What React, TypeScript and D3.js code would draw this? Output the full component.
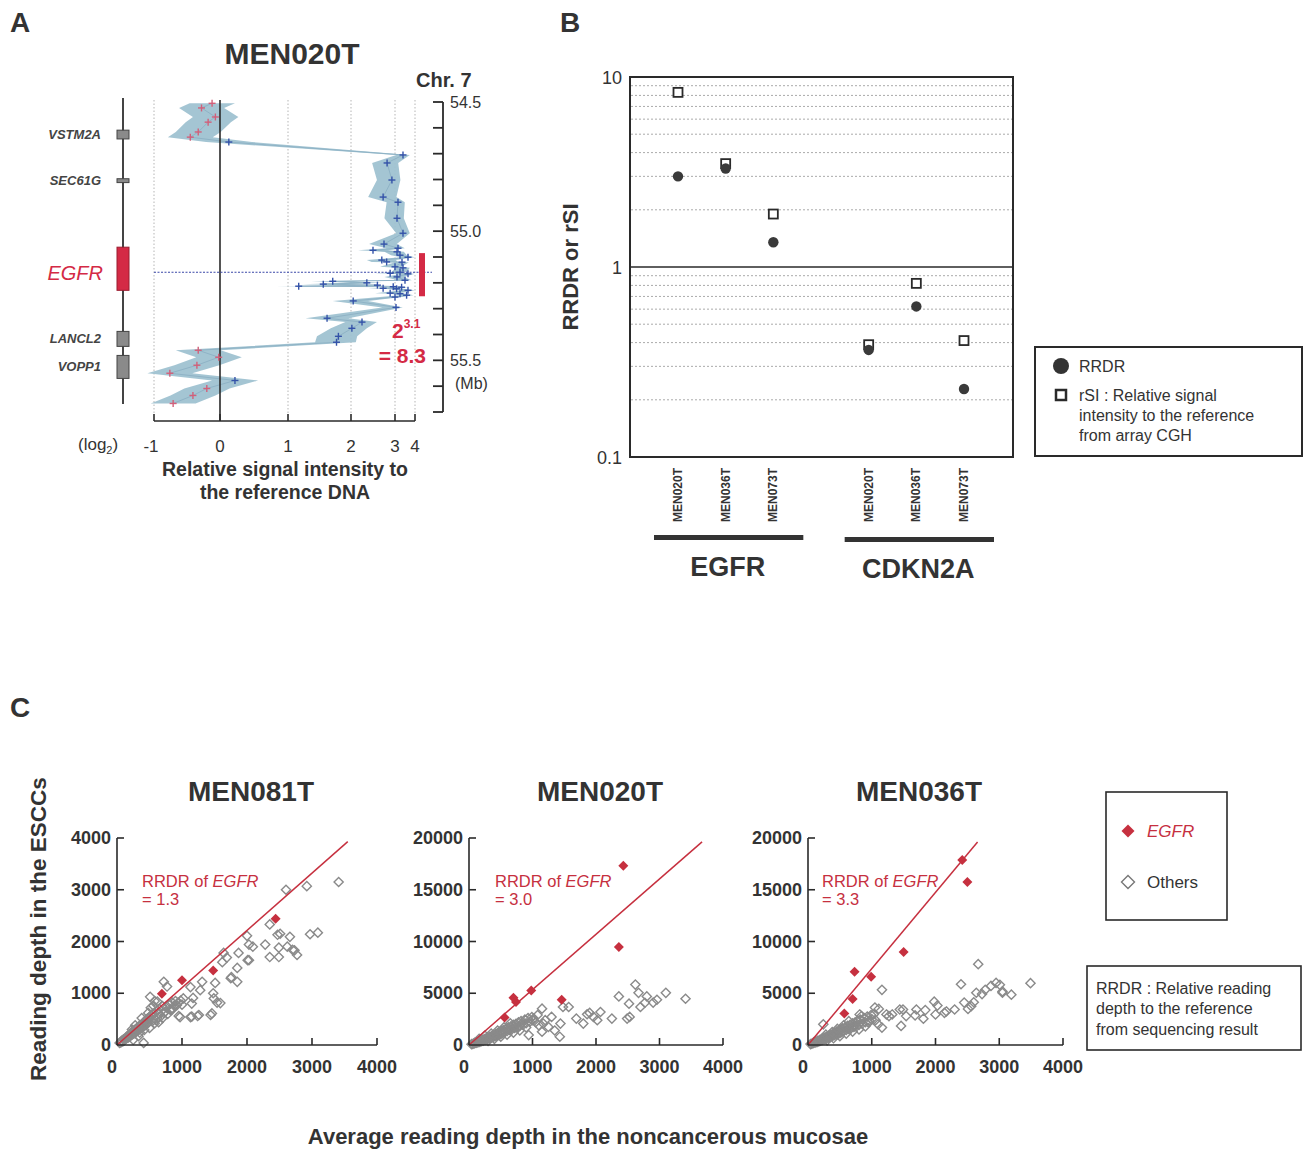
import React from 'react';
import * as d3 from 'd3';

// ---------------- Panel A data ----------------
const aTitle = 'MEN020T';
const geneNames = ['VSTM2A', 'SEC61G', 'EGFR', 'LANCL2', 'VOPP1'];
const geneStartMb = [54.609, 54.797, 55.062, 55.388, 55.481];
const geneEndMb = [54.643, 54.812, 55.229, 55.446, 55.57];
const egfrProbeMb = 55.159;
const ampliconMb = [55.085, 55.252];
const probeMb = [
  54.505, 54.523, 54.558, 54.578, 54.616, 54.636, 54.655, 54.705, 54.736, 54.802,
  54.868, 54.888, 54.95, 55.008, 55.05, 55.066, 55.074, 55.08, 55.093, 55.101,
  55.112, 55.119, 55.12, 55.138, 55.142, 55.159, 55.163, 55.165, 55.177, 55.19,
  55.194, 55.2, 55.205, 55.209, 55.213, 55.215, 55.217, 55.221, 55.223, 55.229,
  55.24, 55.242, 55.248, 55.255, 55.27, 55.295, 55.337, 55.352, 55.376, 55.407,
  55.43, 55.461, 55.488, 55.519, 55.55, 55.578, 55.609, 55.636, 55.667,
];
const probeLog2 = [
  -0.12, -0.28, -0.07, -0.18, -0.33, -0.45, 0.13, 3.4, 2.82, 2.93,
  2.73, 3.15, 3.1, 3.4, 2.75, 3.15, 2.5, 3.1, 3.25, 3.65,
  2.7, 2.81, 3.35, 3.0, 3.4, 3.25, 2.89, 3.65, 3.1, 3.5,
  1.71, 2.36, 1.56, 2.6, 1.17, 2.96, 3.33, 2.73, 3.08, 3.65,
  2.89, 3.25, 3.58, 3.0, 2.05, 3.05, 1.62, 2.25, 2.02, 1.8,
  1.77, -0.33, -0.02, -0.35, -0.76, 0.22, -0.2, -0.41, -0.71,
];
const log2Ticks = [-1, 0, 1, 2, 3, 4];
const mbTicks = [54.5, 54.6, 54.7, 54.8, 54.9, 55.0, 55.1, 55.2, 55.3, 55.4, 55.5, 55.6, 55.7];
const mbLabels = [54.5, 55.0, 55.5];

// ---------------- Panel B data ----------------
const bSamples = ['MEN020T', 'MEN036T', 'MEN073T'];
const bGroups = ['EGFR', 'CDKN2A'];
const rrdrEGFR = [3.0, 3.3, 1.35];
const rsiEGFR = [8.3, 3.5, 1.9];
const rrdrCDKN2A = [0.366, 0.62, 0.228];
const rsiCDKN2A = [0.39, 0.82, 0.41];
const bTickValues = [0.1, 1, 10];
const bTickLabels = ['0.1', '1', '10'];
const bMinorGrid = [0.2, 0.3, 0.4, 0.5, 0.6, 0.7, 0.8, 0.9, 2, 3, 4, 5, 6, 7, 8, 9];

// ---------------- Panel C data ----------------
const cTitles = ['MEN081T', 'MEN020T', 'MEN036T'];
const cRRDR = ['1.3', '3.0', '3.3'];
const cYMax = [4000, 20000, 20000];
const cXTicks = [0, 1000, 2000, 3000, 4000];
const cYTicks = [
  [0, 1000, 2000, 3000, 4000],
  [0, 5000, 10000, 15000, 20000],
  [0, 5000, 10000, 15000, 20000],
];
const cLineEnd = [
  [3550, 3930],
  [3670, 19620],
  [2660, 19620],
];
const egfr081 = [[690, 990], [1000, 1250], [1480, 1440], [2440, 2440]];
const egfr020 = [[560, 2650], [700, 4560], [740, 4150], [980, 5260], [1460, 4370], [2360, 9470], [2430, 17320]];
const egfr036 = [[570, 3050], [700, 4440], [730, 7080], [990, 6600], [1500, 8980], [2420, 17870], [2500, 15750]];

const others081 = [
  [3410, 3150], [2920, 3070], [2600, 3000], [2350, 2330], [2510, 2150], [2660, 2090], [2970, 2140], [3090, 2170],
  [2280, 1940], [2490, 1880], [2620, 1900], [2730, 1830], [2770, 1740], [2350, 1700], [2490, 1700], [2000, 2110],
  [2030, 1940], [2090, 1900], [2030, 1640], [1870, 1780], [1640, 1780], [1690, 1690], [1750, 1290], [1850, 1220],
  [1510, 1200], [1480, 1000], [1490, 900], [1540, 820], [1460, 610], [1310, 1220], [1280, 1060], [1170, 910],
  [1150, 800], [1150, 550], [1260, 580], [1130, 1120], [1020, 900], [920, 770], [950, 560], [770, 1130],
  [720, 1220], [620, 840], [510, 930], [580, 850], [840, 680], [970, 540], [1130, 540], [1240, 560],
  [1620, 1600], [1760, 1310], [1850, 1490], [1590, 810], [1440, 580], [2010, 1640], [2470, 2130], [2700, 1840],
  [40, 40], [60, 50], [70, 80], [90, 70], [100, 110], [110, 90], [130, 120], [140, 150], [150, 130], [160, 170],
  [170, 140], [180, 190], [190, 160], [200, 210], [210, 180], [220, 240], [230, 200], [240, 260], [250, 220],
  [260, 280], [270, 230], [280, 300], [290, 250], [300, 320], [310, 270], [320, 340], [330, 290], [340, 360],
  [350, 300], [360, 380], [370, 330], [380, 400], [390, 350], [400, 420], [410, 360], [420, 450], [430, 380],
  [440, 470], [450, 400], [460, 500], [470, 420], [480, 520], [490, 440], [500, 540], [350, 240], [420, 290],
  [500, 330], [280, 380], [230, 300], [550, 600], [560, 480], [600, 650], [620, 520], [650, 700], [680, 560],
  [700, 750], [720, 620], [760, 720], [800, 780], [820, 680], [850, 820], [880, 760], [900, 850], [480, 620],
  [520, 720], [560, 760], [600, 480], [650, 600], [700, 520], [380, 520], [410, 40], [250, 100], [330, 170],
  [580, 420], [640, 440], [740, 640], [780, 600], [860, 700], [940, 820], [980, 860], [1000, 780], [530, 580],
];

const others020 = [
  [3410, 4470], [3100, 5040], [2960, 4370], [2770, 4080], [2800, 4690], [2620, 5840], [2670, 5040], [2700, 3670],
  [2520, 3990], [2530, 2710], [2490, 2550], [2360, 4690], [2250, 2550], [2070, 3190], [2020, 2390], [1960, 2710],
  [1860, 2970], [1800, 2070], [1690, 2550], [1570, 3670], [1480, 3670], [1440, 2070], [1430, 800], [1300, 2710],
  [1250, 1750], [1150, 3510], [1170, 2070], [1150, 1280], [1020, 2550], [940, 960], [830, 2070], [780, 1750],
  [2900, 4100], [1900, 3100], [1350, 1400], [1080, 2900], [1200, 2400],
  [40, 80], [60, 100], [80, 150], [90, 220], [110, 200], [120, 280], [140, 250], [150, 350], [170, 300], [180, 420],
  [200, 380], [210, 500], [230, 430], [240, 560], [260, 500], [270, 650], [290, 560], [300, 720], [320, 640],
  [330, 800], [350, 700], [360, 880], [380, 760], [390, 960], [410, 850], [420, 1040], [440, 900], [450, 1150],
  [470, 980], [480, 1250], [500, 1050], [510, 1350], [530, 1150], [540, 1450], [560, 1250], [580, 1550],
  [600, 1350], [620, 1700], [640, 1450], [660, 1800], [680, 1550], [700, 1950], [720, 1650], [740, 2050],
  [760, 1700], [780, 2200], [800, 1850], [820, 2300], [850, 1950], [880, 2450], [900, 2100], [930, 2600],
  [960, 2250], [990, 2700], [1000, 2400], [300, 400], [400, 600], [500, 800], [600, 1000], [250, 900],
  [350, 1100], [450, 1400], [550, 1700], [650, 2100], [160, 600], [700, 1200], [800, 1400], [900, 1700],
  [1050, 2200], [1100, 1900],
];

const others036 = [
  [3490, 5970], [3190, 4860], [3050, 5180], [3010, 5810], [2870, 5710], [2780, 5330], [2730, 4920], [2670, 7810],
  [2400, 5870], [2600, 4130], [2560, 3750], [2510, 3490], [2300, 3430], [2140, 3110], [2030, 3810], [2000, 2950],
  [1840, 3370], [1810, 2540], [1680, 2860], [1540, 2790], [1490, 3430], [1460, 1840], [1320, 2950], [1270, 2790],
  [1160, 5330], [1110, 3490], [1160, 1680], [1030, 2950], [950, 2160], [840, 2790], [240, 2000], [730, 1840],
  [810, 2950], [1050, 3620], [1230, 2950], [1440, 3430], [1700, 3430], [1980, 4190], [2170, 3240], [2450, 4100],
  [2640, 5050], [2950, 6000], [3050, 5050],
  [40, 90], [60, 120], [80, 180], [90, 250], [110, 230], [120, 320], [140, 280], [150, 400], [170, 340], [180, 480],
  [200, 420], [210, 560], [230, 480], [240, 640], [260, 560], [270, 740], [290, 620], [300, 820], [320, 700],
  [330, 900], [350, 780], [360, 1000], [380, 840], [390, 1080], [410, 940], [420, 1180], [440, 1000], [450, 1300],
  [470, 1080], [480, 1400], [500, 1150], [510, 1500], [530, 1250], [540, 1600], [560, 1350], [580, 1700],
  [600, 1450], [620, 1850], [640, 1550], [660, 1950], [680, 1650], [700, 2100], [720, 1750], [740, 2200],
  [760, 1800], [780, 2350], [800, 1950], [820, 2450], [850, 2050], [880, 2600], [900, 2200], [930, 2750],
  [960, 2350], [990, 2900], [1000, 2500], [300, 450], [400, 650], [500, 850], [600, 1100], [280, 1000],
  [380, 1250], [460, 1550], [560, 1900], [640, 2300], [700, 1300], [800, 1500], [900, 1800], [1060, 2400],
  [1100, 2000],
];

// ---------------- helpers ----------------
const FONT = "'Liberation Sans', Arial, Helvetica, sans-serif";
const INK = '#333333';
const RED_A = '#d42a45';
const RED_C = '#c6303f';

const diamond = (x: number, y: number, r: number) =>
  `M${x},${y - r}L${x + r},${y}L${x},${y + r}L${x - r},${y}Z`;

function PanelA() {
  const xA = d3.scaleLinear().domain(log2Ticks).range([154, 220, 288, 351, 395, 415]);
  const yA = d3.scaleLinear().domain([54.5, 55.7]).range([102, 412]);
  const band = 0.34;
  const idx = probeMb.map((_, i) => i);
  const area = d3
    .area<number>()
    .y((i) => yA(probeMb[i]))
    .x0((i) => xA(probeLog2[i] - band))
    .x1((i) => xA(probeLog2[i] + band));
  const line = d3
    .line<number>()
    .x((i) => xA(probeLog2[i]))
    .y((i) => yA(probeMb[i]));
  return (
    <g>
      <text x={10} y={32} fontSize={28} fontWeight="bold" fill={INK}>A</text>
      <text x={292} y={64} fontSize={30} fontWeight="bold" fill={INK} textAnchor="middle">{aTitle}</text>
      <text x={416} y={87} fontSize={20} fontWeight="bold" fill={INK}>Chr. 7</text>

      {/* gene track */}
      <line x1={123} x2={123} y1={98} y2={404} stroke="#444" strokeWidth={2} />
      {geneNames.map((g, i) => {
        const y0 = yA(geneStartMb[i]);
        const y1 = yA(geneEndMb[i]);
        const isE = g === 'EGFR';
        return (
          <g key={g}>
            <rect x={117} y={y0} width={12} height={y1 - y0} fill={isE ? RED_A : '#8a8a8a'} stroke={isE ? '#9a1c30' : '#444'} strokeWidth={1} />
            <text
              x={isE ? 103 : 101}
              y={(y0 + y1) / 2 + (isE ? 4 : 0)}
              dominantBaseline="central"
              textAnchor="end"
              fontStyle="italic"
              fontWeight={isE ? 'normal' : 'bold'}
              fontSize={isE ? 20 : 13}
              fill={isE ? RED_A : '#444'}
            >
              {g}
            </text>
          </g>
        );
      })}

      {/* grid */}
      {log2Ticks.filter((t) => t !== 0).map((t) => (
        <line key={t} x1={xA(t)} x2={xA(t)} y1={100} y2={415} stroke="#b5b5b5" strokeWidth={1} strokeDasharray="1.5,2" />
      ))}
      <path d={area(idx) || ''} fill="#9fc2d1" opacity={0.95} />
      <path d={line(idx) || ''} fill="none" stroke="#8fb3c6" strokeWidth={1} />
      <line x1={xA(0)} x2={xA(0)} y1={100} y2={421} stroke="#2a2a2a" strokeWidth={1.6} />
      <line x1={154} x2={432} y1={yA(egfrProbeMb)} y2={yA(egfrProbeMb)} stroke="#3a47a8" strokeWidth={1.2} strokeDasharray="2,1.5" />
      {idx.map((i) => {
        const x = xA(probeLog2[i]);
        const y = yA(probeMb[i]);
        const c = probeLog2[i] < 0 ? '#d2607a' : '#3452a8';
        return (
          <g key={i} stroke={c} strokeWidth={1.4}>
            <line x1={x - 3.5} x2={x + 3.5} y1={y} y2={y} />
            <line x1={x} x2={x} y1={y - 3.5} y2={y + 3.5} />
          </g>
        );
      })}
      {/* amplicon bar */}
      <rect x={419} y={yA(ampliconMb[0])} width={6} height={yA(ampliconMb[1]) - yA(ampliconMb[0])} fill={RED_A} />
      <text x={392} y={338} fontSize={21} fontWeight="bold" fill={RED_A}>
        2<tspan fontSize={12} dy={-10}>3.1</tspan>
      </text>
      <text x={426} y={363} fontSize={21} fontWeight="bold" fill={RED_A} textAnchor="end">= 8.3</text>

      {/* x axis */}
      <line x1={154} x2={415} y1={421} y2={421} stroke="#2a2a2a" strokeWidth={1.6} />
      {log2Ticks.map((t) => (
        <g key={t}>
          <line x1={xA(t)} x2={xA(t)} y1={414} y2={421} stroke="#2a2a2a" strokeWidth={1.6} />
          <text x={xA(t) - (t < 0 ? 3 : 0)} y={452} fontSize={17} fill={INK} textAnchor="middle">{t}</text>
        </g>
      ))}
      <text x={78} y={450} fontSize={17} fill={INK}>
        (log<tspan fontSize={11} dy={4}>2</tspan><tspan dy={-4}>)</tspan>
      </text>
      <text x={285} y={476} fontSize={19.5} fontWeight="bold" fill={INK} textAnchor="middle">Relative signal intensity to</text>
      <text x={285} y={499} fontSize={19.5} fontWeight="bold" fill={INK} textAnchor="middle">the reference DNA</text>

      {/* right Mb axis */}
      <line x1={443} x2={443} y1={yA(54.5)} y2={yA(55.7)} stroke="#2a2a2a" strokeWidth={1.8} />
      {mbTicks.map((t) => (
        <line key={t} x1={433} x2={443} y1={yA(t)} y2={yA(t)} stroke="#2a2a2a" strokeWidth={1.8} />
      ))}
      {mbLabels.map((t) => (
        <text key={t} x={450} y={yA(t) + 6} fontSize={16} fill={INK}>{t.toFixed(1)}</text>
      ))}
      <text x={455} y={389} fontSize={16} fill={INK}>(Mb)</text>
    </g>
  );
}

function PanelB() {
  const xB = d3.scaleLinear().domain([0, 6]).range([678, 964]);
  const yB = d3.scaleLog().domain([0.1, 10]).range([457, 77]);
  const rrdr = [rrdrEGFR, rrdrCDKN2A];
  const rsi = [rsiEGFR, rsiCDKN2A];
  return (
    <g>
      <text x={560} y={32} fontSize={28} fontWeight="bold" fill={INK}>B</text>
      {bMinorGrid.map((v) => (
        <line key={v} x1={631} x2={1012} y1={yB(v)} y2={yB(v)} stroke="#aaaaaa" strokeWidth={1} strokeDasharray="2,2" />
      ))}
      <line x1={631} x2={1012} y1={yB(1)} y2={yB(1)} stroke="#2a2a2a" strokeWidth={1.6} />
      <rect x={630} y={77} width={383} height={380} fill="none" stroke="#2a2a2a" strokeWidth={2} />
      {bTickValues.map((v, i) => (
        <text key={v} x={622} y={yB(v) + 7} fontSize={18} fill={INK} textAnchor="end">{bTickLabels[i]}</text>
      ))}
      <text transform="translate(578,267) rotate(-90)" fontSize={22} fontWeight="bold" fill={INK} textAnchor="middle">RRDR or rSI</text>
      {bGroups.map((g, gi) => (
        <g key={g}>
          {bSamples.map((s, si) => {
            const x = xB(gi * 4 + si);
            return (
              <g key={s}>
                <rect x={x - 4.5} y={yB(rsi[gi][si]) - 4.5} width={9} height={9} fill="#fff" stroke="#2a2a2a" strokeWidth={1.8} />
                <circle cx={x} cy={yB(rrdr[gi][si])} r={5.2} fill="#3a3a3a" />
                <text transform={`translate(${x + 4},468) rotate(-90)`} fontSize={12} fontWeight="bold" fill={INK} textAnchor="end">{s}</text>
              </g>
            );
          })}
          <rect x={xB(gi * 4) - 24} y={535 + gi * 2} width={xB(gi * 4 + 2) - xB(gi * 4) + 54} height={5} fill="#333" />
          <text x={xB(gi * 4 + 1) + 2} y={576 + gi * 2} fontSize={27} fontWeight="bold" fill={INK} textAnchor="middle">{g}</text>
        </g>
      ))}
      {/* legend */}
      <rect x={1035} y={347} width={267} height={109} fill="none" stroke="#2a2a2a" strokeWidth={2} />
      <circle cx={1061} cy={366} r={8} fill="#333" />
      <text x={1079} y={372} fontSize={16} fill={INK}>RRDR</text>
      <rect x={1056} y={390} width={10} height={10} fill="#fff" stroke="#2a2a2a" strokeWidth={2.5} />
      <text x={1079} y={401} fontSize={16} fill={INK}>rSI : Relative signal</text>
      <text x={1079} y={421} fontSize={16} fill={INK}>intensity to the reference</text>
      <text x={1079} y={441} fontSize={16} fill={INK}>from array CGH</text>
    </g>
  );
}

function PanelC() {
  const layout = [
    { x0: 117, x1: 377, cx: 251, tx: 142 },
    { x0: 469, x1: 723, cx: 600, tx: 495 },
    { x0: 808, x1: 1063, cx: 919, tx: 822 },
  ];
  const yTop = 838;
  const yBot = 1045;
  const others = [others081, others020, others036];
  const egfr = [egfr081, egfr020, egfr036];
  return (
    <g>
      <text x={10} y={717} fontSize={28} fontWeight="bold" fill={INK}>C</text>
      <text transform="translate(46,929) rotate(-90)" fontSize={22.5} fontWeight="bold" fill={INK} textAnchor="middle">Reading depth in the ESCCs</text>
      <text x={588} y={1144} fontSize={22} fontWeight="bold" fill={INK} textAnchor="middle">Average reading depth in the noncancerous mucosae</text>
      {layout.map((L, k) => {
        const x = d3.scaleLinear().domain([0, 4000]).range([L.x0, L.x1]);
        const y = d3.scaleLinear().domain([0, cYMax[k]]).range([yBot, yTop]);
        return (
          <g key={k}>
            <text x={L.cx} y={801} fontSize={28} fontWeight="bold" fill={INK} textAnchor="middle">{cTitles[k]}</text>
            {others[k].map((p, i) => (
              <path key={i} d={diamond(x(p[0]), y(p[1]), 4.6)} fill="none" stroke="#8a8a8a" strokeWidth={1.4} />
            ))}
            <line x1={x(0)} y1={y(0)} x2={x(cLineEnd[k][0])} y2={y(cLineEnd[k][1])} stroke={RED_C} strokeWidth={1.5} />
            {egfr[k].map((p, i) => (
              <path key={i} d={diamond(x(p[0]), y(p[1]), 5)} fill={RED_C} />
            ))}
            {/* axes */}
            <line x1={L.x0} x2={L.x0} y1={yTop} y2={yBot} stroke="#2a2a2a" strokeWidth={1.6} />
            <line x1={L.x0} x2={L.x1} y1={yBot} y2={yBot} stroke="#2a2a2a" strokeWidth={1.6} />
            {cYTicks[k].map((t) => (
              <g key={t}>
                {t > 0 && <line x1={L.x0} x2={L.x0 + 7} y1={y(t)} y2={y(t)} stroke="#2a2a2a" strokeWidth={1.6} />}
                <text x={L.x0 - 6} y={y(t) + 6} fontSize={18} fontWeight="bold" fill={INK} textAnchor="end">{t}</text>
              </g>
            ))}
            {cXTicks.map((t) => (
              <g key={t}>
                {t > 0 && <line x1={x(t)} x2={x(t)} y1={yBot - 7} y2={yBot} stroke="#2a2a2a" strokeWidth={1.6} />}
                <text x={t === 0 ? x(t) - 5 : x(t)} y={1073} fontSize={18} fontWeight="bold" fill={INK} textAnchor="middle">{t}</text>
              </g>
            ))}
            <text x={L.tx} y={887} fontSize={16.5} fill={RED_C}>
              RRDR of <tspan fontStyle="italic">EGFR</tspan>
            </text>
            <text x={L.tx} y={905} fontSize={16.5} fill={RED_C}>= {cRRDR[k]}</text>
          </g>
        );
      })}
      {/* legends */}
      <rect x={1106} y={792} width={121} height={128} fill="none" stroke="#2a2a2a" strokeWidth={1.6} />
      <path d={diamond(1128, 831, 6.5)} fill={RED_C} />
      <text x={1147} y={837} fontSize={17} fontStyle="italic" fill={RED_C}>EGFR</text>
      <path d={diamond(1128, 882, 6.5)} fill="none" stroke="#777" strokeWidth={1.4} />
      <text x={1147} y={888} fontSize={17} fill={INK}>Others</text>
      <rect x={1087} y={966} width={214} height={84} fill="none" stroke="#2a2a2a" strokeWidth={1.6} />
      <text x={1096} y={994} fontSize={16} fill={INK}>RRDR : Relative reading</text>
      <text x={1096} y={1014} fontSize={16} fill={INK}>depth to the reference</text>
      <text x={1096} y={1035} fontSize={16} fill={INK}>from sequencing result</text>
    </g>
  );
}

export default function App() {
  return (
    <svg
      width={1309}
      height={1149}
      viewBox="0 0 1309 1149"
      style={{ position: 'absolute', left: 0, top: 0, background: '#fff' }}
      fontFamily={FONT}
    >
      <rect x={0} y={0} width={1309} height={1149} fill="#fff" />
      <PanelA />
      <PanelB />
      <PanelC />
    </svg>
  );
}
